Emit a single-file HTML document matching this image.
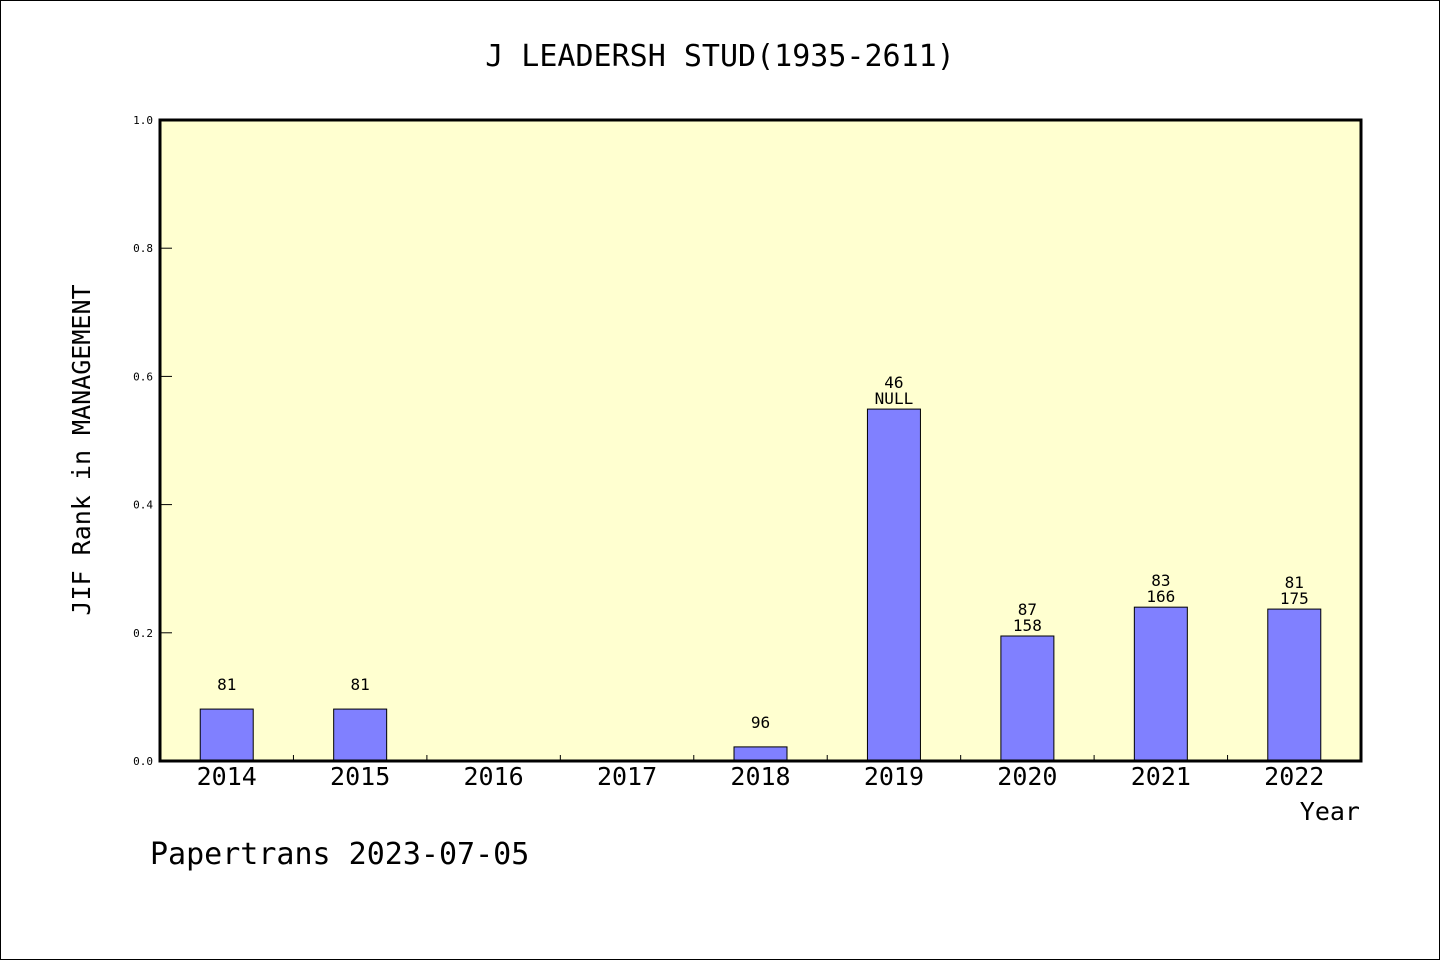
<!DOCTYPE html>
<html><head><meta charset="utf-8"><style>
html,body{margin:0;padding:0;background:#fff;}
svg{display:block;font-family:"DejaVu Sans Mono","Liberation Mono",monospace;}
</style></head><body>
<svg id="chart" width="1440" height="960" xmlns="http://www.w3.org/2000/svg">
<rect x="0.5" y="0.5" width="1439" height="959" fill="#fff" stroke="#000"/>
<text x="720" y="66" text-anchor="middle" font-size="30">J LEADERSH STUD(1935-2611)</text>
<rect x="160" y="120" width="1201" height="641" fill="#ffffd0"/>
<g id="yticks"></g>
<g id="bars"></g>
<rect x="160" y="120" width="1201" height="641" fill="none" stroke="#000" stroke-width="3"/>
<text transform="translate(90,450) rotate(-90)" text-anchor="middle" font-size="25">JIF Rank in MANAGEMENT</text>
<text x="1360" y="820" text-anchor="end" font-size="25">Year</text>
<text x="150" y="864" font-size="30">Papertrans 2023-07-05</text>
</svg>
<script>
const categories=["2014","2015","2016","2017","2018","2019","2020","2021","2022"];
const values=[0.081,0.081,0,0,0.022,0.549,0.195,0.240,0.237];
const labelTop=["","","","","","46","87","83","81"];
const labelBottom=["81","81","","","96","NULL","158","166","175"];
const yTicks=["0.0","0.2","0.4","0.6","0.8","1.0"];
const NS="http://www.w3.org/2000/svg";
const X0=160,X1=1361,Y0=761,Y1=120;
const bw=(X1-X0)/categories.length;
const xc=i=>X0+bw*(i+0.5);
const ys=v=>Y0-(Y0-Y1)*v;
function mk(t,a){const e=document.createElementNS(NS,t);for(const k in a)e.setAttribute(k,a[k]);return e;}
const yg=document.getElementById('yticks');
yTicks.forEach(t=>{
  const y=ys(parseFloat(t));
  const l=mk('line',{x1:160,x2:172,y1:y,y2:y,stroke:'#000','stroke-width':1});
  
  
  yg.appendChild(l);
  const tx=mk('text',{x:153,y:y+4,'text-anchor':'end','font-size':11});
  
  
  tx.textContent=t;yg.appendChild(tx);
});
const bg=document.getElementById('bars');
for(let i=1;i<categories.length;i++){
  const x=X0+bw*i;
  const l=mk('line',{x1:x,x2:x,y1:Y0,y2:Y0-6,stroke:'#000','stroke-width':1});
  
  
  bg.appendChild(l);
}
categories.forEach((c,i)=>{
  const cx=xc(i),v=values[i];
  if(v>0){
    const r=mk('rect',{x:cx-26.5,y:ys(v),width:53,height:Y0-ys(v),fill:'#8080ff',stroke:'#000','stroke-width':1});
    
    
    bg.appendChild(r);
  }
  const top=ys(v);
  if(labelTop[i]){
    const t1=mk('text',{x:cx,y:top-21,'text-anchor':'middle','font-size':16});
    
    
    t1.textContent=labelTop[i];bg.appendChild(t1);
    const t2=mk('text',{x:cx,y:top-5,'text-anchor':'middle','font-size':16});
    
    
    t2.textContent=labelBottom[i];bg.appendChild(t2);
  } else if(labelBottom[i]){
    const t2=mk('text',{x:cx,y:top-19,'text-anchor':'middle','font-size':16});
    
    
    t2.textContent=labelBottom[i];bg.appendChild(t2);
  }
  const xl=mk('text',{x:cx,y:785,'text-anchor':'middle','font-size':25});
  
  
  xl.textContent=c;bg.appendChild(xl);
});
</script>
</body></html>
